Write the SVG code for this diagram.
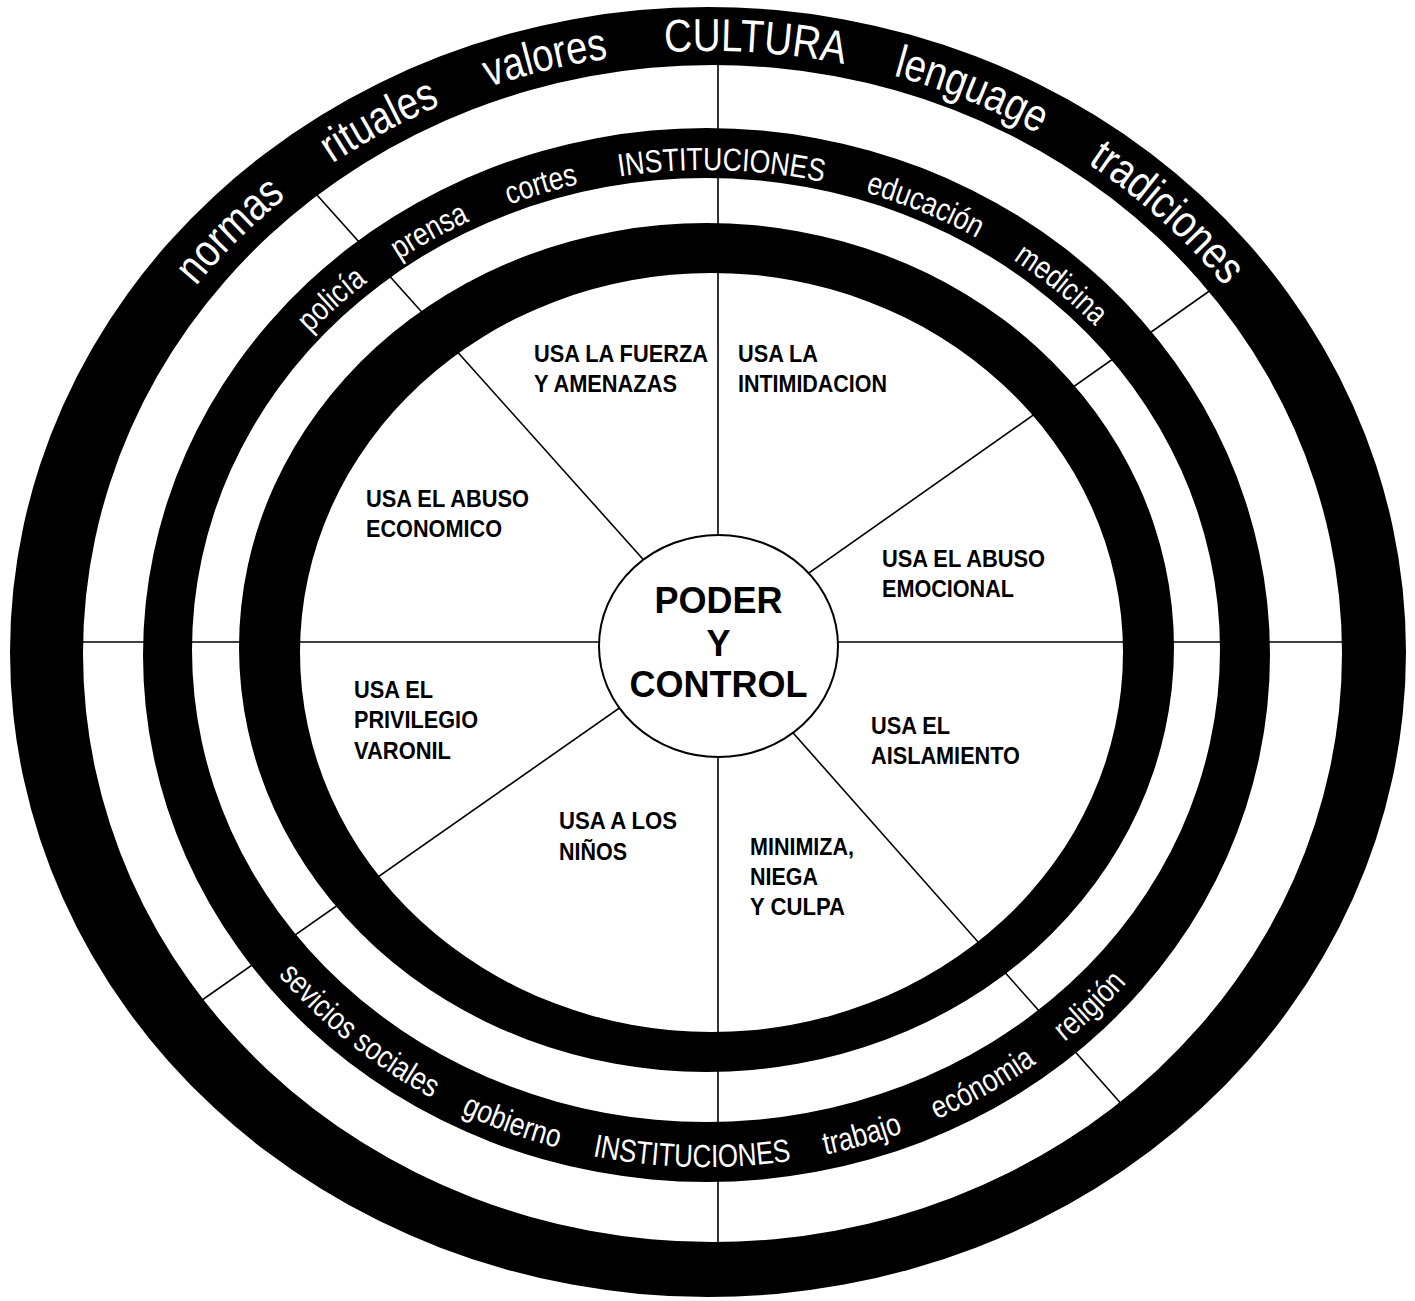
<svg xmlns="http://www.w3.org/2000/svg" width="1415" height="1301" viewBox="0 0 1415 1301">
<style>
.ring{fill:#000;fill-rule:evenodd;stroke:none}
.spoke{stroke:#000;stroke-width:1.6;fill:none}
.rt1{font-family:"Liberation Sans",Arial,sans-serif;font-size:46px;fill:#fff}
.rt2{font-family:"Liberation Sans",Arial,sans-serif;font-size:32px;fill:#fff}
.lbl{font-family:"Liberation Sans",Arial,sans-serif;font-size:24px;font-weight:bold;fill:#000}
.ctr{font-family:"Liberation Sans",Arial,sans-serif;font-size:36px;font-weight:bold;fill:#000;text-anchor:middle}
</style>
<defs>
<path id="p-normas" d="M114.0,416.2 A648,601 0 0 1 416.8,116.0"/>
<path id="p-rituales" d="M211.4,268.1 A648,601 0 0 1 594.1,60.7"/>
<path id="p-valores" d="M342.1,157.3 A648,601 0 0 1 771.0,53.6"/>
<path id="p-cultura" d="M531.4,74.3 A648,601 0 0 1 973.5,103.0"/>
<path id="p-lenguage" d="M750.7,52.2 A648,601 0 0 1 1156.9,216.8"/>
<path id="p-tradiciones" d="M976.7,104.2 A648,601 0 0 1 1293.9,391.3"/>
<path id="p-policia" d="M229.4,444.5 A528,482 0 0 1 487.0,213.4"/>
<path id="p-prensa" d="M293.9,350.7 A528,482 0 0 1 602.6,179.4"/>
<path id="p-cortes" d="M380.2,272.7 A528,482 0 0 1 723.5,170.2"/>
<path id="p-inst1" d="M540.2,194.4 A528,482 0 0 1 901.2,204.2"/>
<path id="p-educacion" d="M746.5,171.4 A528,482 0 0 1 1075.4,307.6"/>
<path id="p-medicina" d="M902.1,204.5 A528,482 0 0 1 1171.3,424.2"/>
<path id="p-servicios" d="M227.2,904.0 A549,515 0 0 0 511.9,1133.7"/>
<path id="p-gobierno" d="M344.4,1039.5 A549,515 0 0 0 694.5,1166.9"/>
<path id="p-inst2" d="M504.8,1131.2 A549,515 0 0 0 880.2,1140.4"/>
<path id="p-trabajo" d="M676.3,1166.2 A549,515 0 0 0 1035.6,1063.8"/>
<path id="p-economia" d="M811.7,1157.4 A549,515 0 0 0 1133.2,975.4"/>
<path id="p-religion" d="M943.2,1116.4 A549,515 0 0 0 1206.0,864.7"/>
</defs>
<rect width="1415" height="1301" fill="#fff"/>
<g id="connectors">
<line class="spoke" x1="718" y1="30" x2="718" y2="1270"/>
<line class="spoke" x1="40" y1="642" x2="1380" y2="642"/>
<line class="spoke" x1="718" y1="643" x2="300" y2="176"/>
<line class="spoke" x1="718" y1="637" x2="1225" y2="280"/>
<line class="spoke" x1="718" y1="639" x2="185" y2="1012"/>
<line class="spoke" x1="718" y1="648" x2="1132" y2="1116"/>
</g>
<g id="rings">
<path id="ring-cultura" class="ring" d="M10,652 A698,645 0 1 0 1406,652 A698,645 0 1 0 10,652 Z M83,653.5 A629.5,588.5 0 1 0 1342,653.5 A629.5,588.5 0 1 0 83,653.5 Z"/>
<path id="ring-instituciones" class="ring" d="M143,655 A563.5,527 0 1 0 1270,655 A563.5,527 0 1 0 143,655 Z M192,650 A514,472 0 1 0 1220,650 A514,472 0 1 0 192,650 Z"/>
<path id="ring-inner" class="ring" d="M239,647.5 A467.5,424.5 0 1 0 1174,647.5 A467.5,424.5 0 1 0 239,647.5 Z M300,652.5 A411.5,379.5 0 1 0 1123,652.5 A411.5,379.5 0 1 0 300,652.5 Z"/>
</g>
<g id="ring-texts">
<text class="rt1"><textPath href="#p-normas" startOffset="50%" text-anchor="middle" textLength="127" lengthAdjust="spacingAndGlyphs">normas</textPath></text>
<text class="rt1"><textPath href="#p-rituales" startOffset="50%" text-anchor="middle" textLength="123" lengthAdjust="spacingAndGlyphs">rituales</textPath></text>
<text class="rt1"><textPath href="#p-valores" startOffset="50%" text-anchor="middle" textLength="123" lengthAdjust="spacingAndGlyphs">valores</textPath></text>
<text class="rt1"><textPath href="#p-cultura" startOffset="50%" text-anchor="middle" textLength="180" lengthAdjust="spacingAndGlyphs">CULTURA</textPath></text>
<text class="rt1"><textPath href="#p-lenguage" startOffset="50%" text-anchor="middle" textLength="157" lengthAdjust="spacingAndGlyphs">lenguage</textPath></text>
<text class="rt1"><textPath href="#p-tradiciones" startOffset="50%" text-anchor="middle" textLength="185" lengthAdjust="spacingAndGlyphs">tradiciones</textPath></text>
<text class="rt2"><textPath href="#p-policia" startOffset="50%" text-anchor="middle" textLength="77" lengthAdjust="spacingAndGlyphs">policía</textPath></text>
<text class="rt2"><textPath href="#p-prensa" startOffset="50%" text-anchor="middle" textLength="81" lengthAdjust="spacingAndGlyphs">prensa</textPath></text>
<text class="rt2"><textPath href="#p-cortes" startOffset="50%" text-anchor="middle" textLength="72" lengthAdjust="spacingAndGlyphs">cortes</textPath></text>
<text class="rt2"><textPath href="#p-inst1" startOffset="50%" text-anchor="middle" textLength="205" lengthAdjust="spacingAndGlyphs">INSTITUCIONES</textPath></text>
<text class="rt2"><textPath href="#p-educacion" startOffset="50%" text-anchor="middle" textLength="121" lengthAdjust="spacingAndGlyphs">educación</textPath></text>
<text class="rt2"><textPath href="#p-medicina" startOffset="50%" text-anchor="middle" textLength="106" lengthAdjust="spacingAndGlyphs">medicina</textPath></text>
<text class="rt2"><textPath href="#p-servicios" startOffset="50%" text-anchor="middle" textLength="198" lengthAdjust="spacingAndGlyphs">sevicios sociales</textPath></text>
<text class="rt2"><textPath href="#p-gobierno" startOffset="50%" text-anchor="middle" textLength="103" lengthAdjust="spacingAndGlyphs">gobierno</textPath></text>
<text class="rt2"><textPath href="#p-inst2" startOffset="50%" text-anchor="middle" textLength="200" lengthAdjust="spacingAndGlyphs">INSTITUCIONES</textPath></text>
<text class="rt2"><textPath href="#p-trabajo" startOffset="50%" text-anchor="middle" textLength="81" lengthAdjust="spacingAndGlyphs">trabajo</textPath></text>
<text class="rt2"><textPath href="#p-economia" startOffset="50%" text-anchor="middle" textLength="115" lengthAdjust="spacingAndGlyphs">ecónomia</textPath></text>
<text class="rt2"><textPath href="#p-religion" startOffset="50%" text-anchor="middle" textLength="86" lengthAdjust="spacingAndGlyphs">religión</textPath></text>
</g>
<g id="node-fuerza"><text class="lbl"><tspan x="534" y="362" textLength="174" lengthAdjust="spacingAndGlyphs">USA LA FUERZA</tspan><tspan x="534" y="392" textLength="143" lengthAdjust="spacingAndGlyphs">Y AMENAZAS</tspan></text></g>
<g id="node-intimidacion"><text class="lbl"><tspan x="738" y="362" textLength="80" lengthAdjust="spacingAndGlyphs">USA LA</tspan><tspan x="738" y="392" textLength="149" lengthAdjust="spacingAndGlyphs">INTIMIDACION</tspan></text></g>
<g id="node-economico"><text class="lbl"><tspan x="366" y="507" textLength="163" lengthAdjust="spacingAndGlyphs">USA EL ABUSO</tspan><tspan x="366" y="537" textLength="136" lengthAdjust="spacingAndGlyphs">ECONOMICO</tspan></text></g>
<g id="node-emocional"><text class="lbl"><tspan x="882" y="567" textLength="163" lengthAdjust="spacingAndGlyphs">USA EL ABUSO</tspan><tspan x="882" y="597" textLength="132" lengthAdjust="spacingAndGlyphs">EMOCIONAL</tspan></text></g>
<g id="node-privilegio"><text class="lbl"><tspan x="354" y="698" textLength="79" lengthAdjust="spacingAndGlyphs">USA EL</tspan><tspan x="354" y="728" textLength="124" lengthAdjust="spacingAndGlyphs">PRIVILEGIO</tspan><tspan x="354" y="759" textLength="97" lengthAdjust="spacingAndGlyphs">VARONIL</tspan></text></g>
<g id="node-aislamiento"><text class="lbl"><tspan x="871" y="734" textLength="79" lengthAdjust="spacingAndGlyphs">USA EL</tspan><tspan x="871" y="764" textLength="149" lengthAdjust="spacingAndGlyphs">AISLAMIENTO</tspan></text></g>
<g id="node-ninos"><text class="lbl"><tspan x="559" y="829" textLength="118" lengthAdjust="spacingAndGlyphs">USA A LOS</tspan><tspan x="559" y="860" textLength="68" lengthAdjust="spacingAndGlyphs">NIÑOS</tspan></text></g>
<g id="node-minimiza"><text class="lbl"><tspan x="750" y="855" textLength="104" lengthAdjust="spacingAndGlyphs">MINIMIZA,</tspan><tspan x="750" y="885" textLength="68" lengthAdjust="spacingAndGlyphs">NIEGA</tspan><tspan x="750" y="915" textLength="95" lengthAdjust="spacingAndGlyphs">Y CULPA</tspan></text></g>
<g id="node-center">
<ellipse cx="718.5" cy="646" rx="119.5" ry="111" fill="#fff" stroke="#000" stroke-width="2"/>
<text class="ctr"><tspan x="718.5" y="613">PODER</tspan><tspan x="718.5" y="656">Y</tspan><tspan x="718.5" y="697">CONTROL</tspan></text>
</g>
</svg>
